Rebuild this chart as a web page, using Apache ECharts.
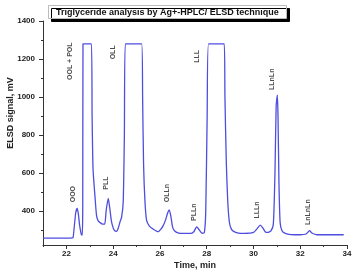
<!DOCTYPE html>
<html>
<head>
<meta charset="utf-8">
<script src="https://cdn.jsdelivr.net/npm/echarts@6/dist/echarts.min.js"></script>
<style>html,body{margin:0;padding:0;background:#fff}#c{width:352px;height:272px}</style>
</head>
<body>
<div id="c"></div>
<script>
// Retention time (min) and ELSD signal (mV); detector saturates at ~1280 mV
var timeMin = [21.0,22.0,22.25,22.29,22.34,22.40,22.46,22.51,22.57,22.64,22.68,22.70,22.71,23.07,23.10,23.14,23.22,23.29,23.36,23.43,23.55,23.64,23.70,23.79,23.85,23.92,24.00,24.07,24.14,24.22,24.30,24.36,24.43,24.48,24.52,25.22,25.26,25.30,25.36,25.43,25.55,25.70,25.93,26.05,26.14,26.25,26.32,26.40,26.47,26.54,26.62,26.80,27.00,27.30,27.45,27.57,27.68,27.80,27.90,27.96,28.02,28.08,28.75,28.78,28.84,28.90,28.97,29.05,29.15,29.35,29.60,30.00,30.15,30.29,30.40,30.50,30.60,30.75,30.85,30.92,30.97,31.02,31.05,31.09,31.14,31.22,31.36,31.60,32.00,32.25,32.40,32.50,32.71,33.00,33.86];
var signalMv = [256,256,257,262,320,390,413,385,320,275,272,420,1280,1280,900,620,480,375,347,339,330,330,400,465,420,350,310,295,292,310,345,365,446,800,1280,1280,1000,650,450,350,320,305,290,305,322,355,385,405,370,315,295,283,281,281,290,316,300,282,285,400,900,1280,1280,1000,650,450,340,305,292,283,281,286,305,325,310,290,286,295,330,600,950,1010,900,550,339,295,281,275,274,278,295,283,274,274,274];

// Peak annotations
var peakNames = ["OOO","OOL + POL","PLL","OLL","OLLn","PLLn","LLL","LLLn","LLnLn","LnLnLn"];
var peakLabelX = [22.27,22.14,23.69,23.99,26.30,27.46,27.59,30.16,30.80,32.35];
var peakLabelY = [488,1188,546,1235,493,393,1214,404,1093,393];

var xMajor = [22,24,26,28,30,32,34];
var xMinor = [21,23,25,27,29,31,33];
var yMajor = [400,600,800,1000,1200,1400];
var yMinor = [300,500,700,900,1100,1300];

var titleText = "Triglyceride analysis by Ag+-HPLC/ ELSD technique";
var xName = "Time, min";
var yName = "ELSD signal, mV";

var lineData = timeMin.map(function(t,i){return [t, signalMv[i]];});
var labelData = peakNames.map(function(n,i){return [peakLabelX[i], peakLabelY[i], n];});

var FONT = '"Liberation Sans", Arial, sans-serif';

var chart = echarts.init(document.getElementById('c'), null, {renderer: 'canvas'});
chart.setOption({
  animation: false,
  backgroundColor: '#fff',
  title: {
    text: titleText,
    left: 48, top: 5,
    padding: [2, 8, 1, 8],
    backgroundColor: '#fff',
    borderColor: '#bbb', borderWidth: 1,
    shadowColor: '#000', shadowBlur: 0, shadowOffsetX: 3, shadowOffsetY: 3,
    textStyle: {fontFamily: FONT, fontWeight: 'bold', fontSize: 9, color: '#111', lineHeight: 11}
  },
  grid: {left: 43, right: 5, top: 21, bottom: 27, outerBoundsMode: 'none', containLabel: false},
  xAxis: [{
    type: 'value', min: 21, max: 34,
    name: xName, nameLocation: 'middle', nameGap: 16, nameMoveOverlap: false,
    nameTextStyle: {fontFamily: FONT, fontWeight: 'bold', fontSize: 9, color: '#222'},
    axisLine: {show: true, onZero: false, lineStyle: {color: '#333', width: 1}},
    axisTick: {show: true, inside: false, length: 4, customValues: xMajor, lineStyle: {color: '#333'}},
    axisLabel: {show: true, customValues: xMajor, margin: 5, fontFamily: FONT, fontWeight: 'bold', fontSize: 8, color: '#222'},
    splitLine: {show: false}
  }, {
    type: 'value', min: 21, max: 34, position: 'bottom',
    axisLine: {show: false},
    axisTick: {show: true, inside: false, length: 2, customValues: xMinor, lineStyle: {color: '#333'}},
    axisLabel: {show: false},
    splitLine: {show: false}
  }],
  yAxis: [{
    type: 'value', min: 220, max: 1400,
    name: yName, nameLocation: 'middle', nameGap: 28, nameRotate: 90, nameMoveOverlap: false,
    nameTextStyle: {fontFamily: FONT, fontWeight: 'bold', fontSize: 9, color: '#222', padding: [0, 0, 0, 40]},
    axisLine: {show: true, onZero: false, lineStyle: {color: '#333', width: 1}},
    axisTick: {show: true, inside: false, length: 4, customValues: yMajor, lineStyle: {color: '#333'}},
    axisLabel: {show: true, customValues: yMajor, margin: 8, formatter: function(v){return String(v);}, fontFamily: FONT, fontWeight: 'bold', fontSize: 8, color: '#222'},
    splitLine: {show: false}
  }, {
    type: 'value', min: 220, max: 1400, position: 'left',
    axisLine: {show: false},
    axisTick: {show: true, inside: false, length: 2, customValues: yMinor, lineStyle: {color: '#333'}},
    axisLabel: {show: false},
    splitLine: {show: false}
  }],
  series: [{
    type: 'line',
    data: lineData,
    xAxisIndex: 0, yAxisIndex: 0,
    showSymbol: false, symbol: 'none',
    smooth: 0.2,
    lineStyle: {color: '#4d4de0', width: 1.3},
    z: 3
  }, {
    type: 'scatter',
    data: labelData,
    xAxisIndex: 0, yAxisIndex: 0,
    symbolSize: 1,
    itemStyle: {color: 'rgba(0,0,0,0)'},
    label: {
      show: true, position: 'inside', rotate: 90,
      formatter: function(p){return p.data[2];},
      fontFamily: FONT, fontWeight: 'bold', fontSize: 7, color: '#222'
    },
    z: 4
  }]
});
</script>
</body>
</html>
